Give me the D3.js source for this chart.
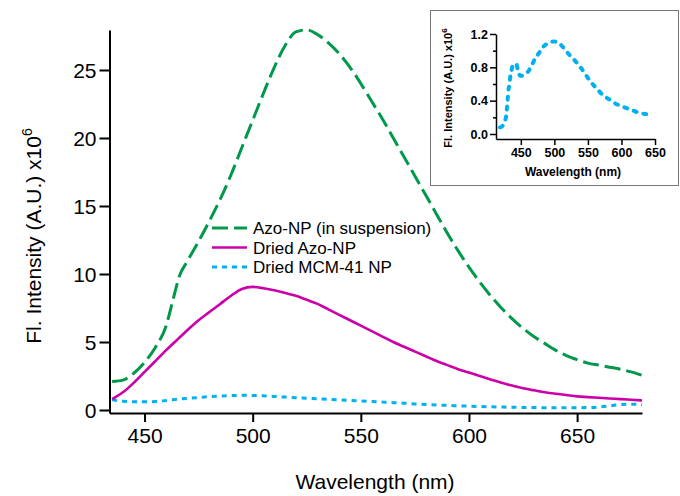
<!DOCTYPE html>
<html><head><meta charset="utf-8">
<script src="https://cdn.jsdelivr.net/npm/d3@7"></script>
<style>
body{margin:0;background:#fff;}
svg{display:block;font-family:"Liberation Sans",Arial,sans-serif;}
</style></head>
<body><svg id="c" width="680" height="496"></svg>
<script>
// ---- data ----
const wavelength = [435,440,445,450,455,460,463,466,470,475,480,485,490,495,500,505,510,515,520,525,530,535,540,545,550,555,560,565,570,575,580,585,590,595,600,605,610,615,620,625,630,635,640,645,650,655,660,665,670,675,680];
const azoSuspension = [2.1,2.2,2.7,3.5,4.6,6.2,8.0,9.8,11.0,12.4,13.9,15.5,17.3,19.3,21.3,23.3,25.2,26.8,27.8,27.95,27.6,27.0,26.2,25.2,24.0,22.7,21.4,20.0,18.6,17.2,15.8,14.4,13.0,11.7,10.5,9.4,8.4,7.5,6.7,6.0,5.4,4.9,4.4,4.0,3.7,3.45,3.3,3.15,3.0,2.8,2.55];
const driedAzo = [0.8,1.3,2.0,2.8,3.6,4.4,4.85,5.3,5.9,6.6,7.2,7.8,8.4,8.9,9.05,8.95,8.8,8.6,8.4,8.1,7.8,7.4,7.0,6.6,6.2,5.8,5.4,5.0,4.65,4.3,3.95,3.6,3.3,3.0,2.75,2.5,2.25,2.0,1.8,1.6,1.45,1.3,1.2,1.1,1.0,0.95,0.9,0.85,0.8,0.75,0.7];
const driedMCM = [0.75,0.65,0.6,0.6,0.62,0.7,0.75,0.8,0.86,0.92,0.98,1.03,1.06,1.08,1.07,1.04,1.0,0.95,0.9,0.86,0.82,0.78,0.74,0.7,0.66,0.62,0.58,0.54,0.5,0.45,0.41,0.37,0.34,0.31,0.28,0.26,0.24,0.22,0.2,0.19,0.18,0.17,0.17,0.17,0.17,0.18,0.22,0.3,0.4,0.43,0.4];
const insetWavelength = [419,423,426,428,430,431.5,433,434,436,438,440,443,446,449,452,456,461,466,471,477,484,491,499,505,512,519,526,533,539,546,553,559,566,573,581,588,595,601,608,614,621,628,636,643.5];
const insetMCM = [0.08,0.1,0.15,0.21,0.38,0.52,0.6,0.67,0.76,0.82,0.84,0.84,0.76,0.7,0.7,0.72,0.75,0.82,0.9,0.97,1.05,1.09,1.11,1.1,1.05,0.98,0.92,0.86,0.8,0.72,0.64,0.58,0.52,0.46,0.42,0.38,0.35,0.33,0.31,0.29,0.27,0.25,0.24,0.23];
const mainXTicks = [450,500,550,600,650];
const mainYTicks = [0,5,10,15,20,25];
const insetXTicks = [450,500,550,600,650];
const insetYTicks = [0.0,0.4,0.8,1.2];
const insetYMinor = [0.2,0.6,1.0];
const seriesNames = ["Azo-NP (in suspension)","Dried Azo-NP","Dried MCM-41 NP"];

// ---- drawing ----
const svg = d3.select("#c");
const green = "#00994C", magenta = "#CC00A8", blue = "#00B0F0";

const x = d3.scaleLinear().domain([433.8,680]).range([109.5,642]);
const y = d3.scaleLinear().domain([-0.22,27.94]).range([413,30]);

const series = [
  {name:seriesNames[0], vals:azoSuspension, color:green, dash:"16,6", w:3},
  {name:seriesNames[1], vals:driedAzo, color:magenta, dash:null, w:2.6},
  {name:seriesNames[2], vals:driedMCM, color:blue, dash:"5,5", w:3}
];
const line = d3.line().x(d=>x(d[0])).y(d=>y(d[1])).curve(d3.curveMonotoneX);

series.slice().reverse().forEach(s=>{
  svg.append("path").datum(wavelength.map((w,i)=>[w,s.vals[i]]))
    .attr("d",line).attr("fill","none").attr("stroke",s.color)
    .attr("stroke-width",s.w).attr("stroke-dasharray",s.dash);
});

// axes
const xAxis = svg.append("g").attr("transform","translate(0,413)")
  .call(d3.axisBottom(x).tickValues(mainXTicks).tickSize(9).tickSizeOuter(0).tickPadding(6).tickFormat(d3.format("d")));
const yAxis = svg.append("g").attr("transform","translate(109.5,0)")
  .call(d3.axisLeft(y).tickValues(mainYTicks).tickSize(10).tickSizeOuter(0).tickPadding(3).tickFormat(d3.format("d")));
[xAxis,yAxis].forEach(g=>{
  g.select(".domain").attr("stroke","#000").attr("stroke-width",2);
  g.selectAll(".tick line").attr("stroke","#000").attr("stroke-width",2);
  g.selectAll(".tick text").attr("font-size",21).attr("fill","#000").attr("font-family","'Liberation Sans',Arial,sans-serif");
});
yAxis.selectAll(".tick text").attr("dy","0.36em");

svg.append("text").attr("x",375).attr("y",489).attr("text-anchor","middle")
  .attr("font-size",21).text("Wavelength (nm)");
const yt = svg.append("text").attr("transform","translate(41,236) rotate(-90)")
  .attr("text-anchor","middle").attr("font-size",21);
yt.append("tspan").text("Fl. Intensity (A.U.) x10");
yt.append("tspan").attr("font-size",14).attr("dy",-9).text("6");

// legend
series.forEach((s,i)=>{
  const ly = 228 + i*19.5;
  svg.append("line").attr("x1",212).attr("x2",247).attr("y1",ly).attr("y2",ly)
    .attr("stroke",s.color).attr("stroke-width",s.w).attr("stroke-dasharray",s.dash);
  svg.append("text").attr("x",253).attr("y",ly+6).attr("font-size",17).text(s.name);
});

// inset
svg.append("rect").attr("x",430.5).attr("y",10.5).attr("width",248).attr("height",175)
  .attr("fill","#fff").attr("stroke","#777").attr("stroke-width",1);
const ix = d3.scaleLinear().domain([413,650]).range([496,655]);
const iy = d3.scaleLinear().domain([-0.06,1.2]).range([139,34]);
const iline = d3.line().x(d=>ix(d[0])).y(d=>iy(d[1])).curve(d3.curveMonotoneX);
svg.append("path").datum(insetWavelength.map((w,i)=>[w,insetMCM[i]]))
  .attr("d",iline).attr("fill","none").attr("stroke",blue).attr("stroke-width",4)
  .attr("stroke-linecap","round").attr("stroke-dasharray","3,7");
const ixa = svg.append("g").attr("transform","translate(0,139)")
  .call(d3.axisBottom(ix).tickValues(insetXTicks).tickSize(6).tickSizeOuter(0).tickPadding(3).tickFormat(d3.format("d")));
const iya = svg.append("g").attr("transform","translate(496,0)")
  .call(d3.axisLeft(iy).tickValues(insetYTicks).tickSize(6).tickSizeOuter(0).tickPadding(2).tickFormat(d3.format(".1f")));
svg.append("g").attr("transform","translate(496,0)")
  .call(d3.axisLeft(iy).tickValues(insetYMinor).tickSize(3).tickFormat(""))
  .call(g=>g.select(".domain").remove())
  .selectAll("line").attr("stroke","#000").attr("stroke-width",1.5);
[ixa,iya].forEach(g=>{
  g.select(".domain").attr("stroke","#000").attr("stroke-width",1.5);
  g.selectAll(".tick line").attr("stroke","#000").attr("stroke-width",1.5);
  g.selectAll(".tick text").attr("font-size",12.5).attr("font-weight","bold").attr("fill","#000")
    .attr("font-family","'Liberation Sans',Arial,sans-serif");
});
svg.append("text").attr("x",573).attr("y",176).attr("text-anchor","middle")
  .attr("font-size",12).attr("font-weight","bold").text("Wavelength (nm)");
const iyt = svg.append("text").attr("transform","translate(452,88) rotate(-90)")
  .attr("text-anchor","middle").attr("font-size",11).attr("font-weight","bold");
iyt.append("tspan").text("Fl. Intensity (A.U.) x10");
iyt.append("tspan").attr("font-size",8).attr("dy",-5).text("6");
</script></body></html>
